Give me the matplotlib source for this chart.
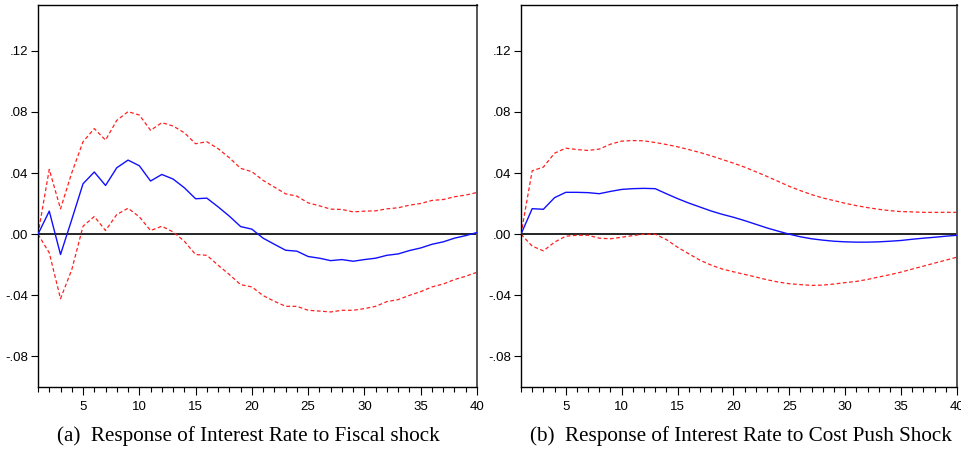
import numpy as np
import matplotlib
matplotlib.use("Agg")
import matplotlib.pyplot as plt
from matplotlib.ticker import MultipleLocator, FixedLocator

periods = list(range(1, 41))

fiscal_resp = [0.0, 0.0151, -0.0133, 0.0096, 0.0330, 0.0407, 0.0319, 0.0435, 0.0485, 0.0448,
               0.0348, 0.0391, 0.0361, 0.0304, 0.0232, 0.0236, 0.0179, 0.0118, 0.0050, 0.0033,
               -0.0026, -0.0066, -0.0105, -0.0111, -0.0146, -0.0157, -0.0173, -0.0166, -0.0177, -0.0166,
               -0.0157, -0.0138, -0.0129, -0.0107, -0.0090, -0.0066, -0.0050, -0.0026, -0.0009, 0.0011]
fiscal_upper = [0.0, 0.0424, 0.0166, 0.0402, 0.0605, 0.0691, 0.0616, 0.0745, 0.0802, 0.0780,
                0.0680, 0.0730, 0.0708, 0.0664, 0.0592, 0.0605, 0.0560, 0.0500, 0.0431, 0.0409,
                0.0352, 0.0308, 0.0264, 0.0249, 0.0205, 0.0186, 0.0164, 0.0162, 0.0146, 0.0151,
                0.0153, 0.0166, 0.0173, 0.0190, 0.0201, 0.0221, 0.0227, 0.0245, 0.0256, 0.0273]
fiscal_lower = [0.0, -0.0122, -0.0422, -0.0232, 0.0052, 0.0116, 0.0024, 0.0129, 0.0170, 0.0114,
                0.0024, 0.0052, 0.0015, -0.0046, -0.0133, -0.0138, -0.0203, -0.0264, -0.0330, -0.0345,
                -0.0402, -0.0439, -0.0472, -0.0472, -0.0498, -0.0503, -0.0509, -0.0498, -0.0498, -0.0487,
                -0.0472, -0.0441, -0.0428, -0.0400, -0.0376, -0.0345, -0.0326, -0.0297, -0.0275, -0.0249]

cost_resp = [0.0, 0.0167, 0.0163, 0.0239, 0.0274, 0.0274, 0.0272, 0.0265, 0.0280, 0.0293,
             0.0298, 0.0300, 0.0298, 0.0265, 0.0233, 0.0204, 0.0178, 0.0152, 0.0130, 0.0111,
             0.0089, 0.0065, 0.0041, 0.0020, 0.0000, -0.0017, -0.0030, -0.0039, -0.0046, -0.0050,
             -0.0052, -0.0052, -0.0050, -0.0046, -0.0041, -0.0033, -0.0026, -0.0020, -0.0013, -0.0007]
cost_upper = [0.0, 0.0415, 0.0439, 0.0530, 0.0563, 0.0554, 0.0548, 0.0557, 0.0589, 0.0609,
              0.0613, 0.0611, 0.0600, 0.0587, 0.0572, 0.0554, 0.0535, 0.0513, 0.0489, 0.0465,
              0.0439, 0.0409, 0.0378, 0.0346, 0.0313, 0.0285, 0.0259, 0.0237, 0.0220, 0.0202,
              0.0187, 0.0174, 0.0163, 0.0154, 0.0148, 0.0146, 0.0143, 0.0143, 0.0143, 0.0143]
cost_lower = [0.0, -0.0078, -0.0109, -0.0052, -0.0013, -0.0007, -0.0007, -0.0026, -0.0030, -0.0020,
              -0.0009, 0.0000, 0.0000, -0.0035, -0.0085, -0.0128, -0.0170, -0.0202, -0.0228, -0.0246,
              -0.0263, -0.0280, -0.0298, -0.0313, -0.0324, -0.0330, -0.0335, -0.0333, -0.0326, -0.0317,
              -0.0309, -0.0296, -0.0280, -0.0265, -0.0248, -0.0228, -0.0209, -0.0189, -0.0170, -0.0150]

y_ticks = [-0.08, -0.04, 0.0, 0.04, 0.08, 0.12]
y_labels = ["-.08", "-.04", ".00", ".04", ".08", ".12"]
x_ticks = [5, 10, 15, 20, 25, 30, 35, 40]

captions = ["(a)  Response of Interest Rate to Fiscal shock",
            "(b)  Response of Interest Rate to Cost Push Shock"]

fig = plt.figure(figsize=(9.61, 4.5), dpi=100)
ax1 = fig.add_axes([38/961, 63/450, 439/961, 382/450])
ax2 = fig.add_axes([521/961, 63/450, 436/961, 382/450])

panels = [(ax1, fiscal_resp, fiscal_upper, fiscal_lower),
          (ax2, cost_resp, cost_upper, cost_lower)]

for ax, resp, up, lo in panels:
    ax.axhline(0, color="black", lw=1.2, zorder=1)
    ax.plot(periods, up, color="#ff2020", lw=0.9, ls=(0, (3, 2)), zorder=2)
    ax.plot(periods, lo, color="#ff2020", lw=0.9, ls=(0, (3, 2)), zorder=2)
    ax.plot(periods, resp, color="#1010ff", lw=1.0, zorder=3)
    ax.set_xlim(1, 40)
    ax.set_ylim(-0.10, 0.15)
    ax.set_yticks(y_ticks)
    ax.set_yticklabels(y_labels, fontsize=9.5, family="Liberation Sans")
    ax.xaxis.set_major_locator(FixedLocator(x_ticks))
    ax.xaxis.set_minor_locator(MultipleLocator(1))
    ax.set_xticklabels([str(v) for v in x_ticks], fontsize=9.5, family="Liberation Sans")
    ax.tick_params(axis="x", which="major", length=6, width=0.8, direction="out", pad=4)
    ax.tick_params(axis="x", which="minor", length=3.5, width=0.8, direction="out")
    ax.tick_params(axis="y", which="major", length=5, width=0.8, direction="out", pad=2)
    for s in ax.spines.values():
        s.set_linewidth(1.0)
        s.set_color("black")
    ax.spines["right"].set_color("#555555")
    ax.spines["right"].set_linewidth(1.4)

fig.text(248/961, 1 - 436/450, captions[0], ha="center", va="center",
         fontsize=15.2, family="Liberation Serif")
fig.text(741/961, 1 - 436/450, captions[1], ha="center", va="center",
         fontsize=15.2, family="Liberation Serif")

fig.savefig("out.png", dpi=100)
